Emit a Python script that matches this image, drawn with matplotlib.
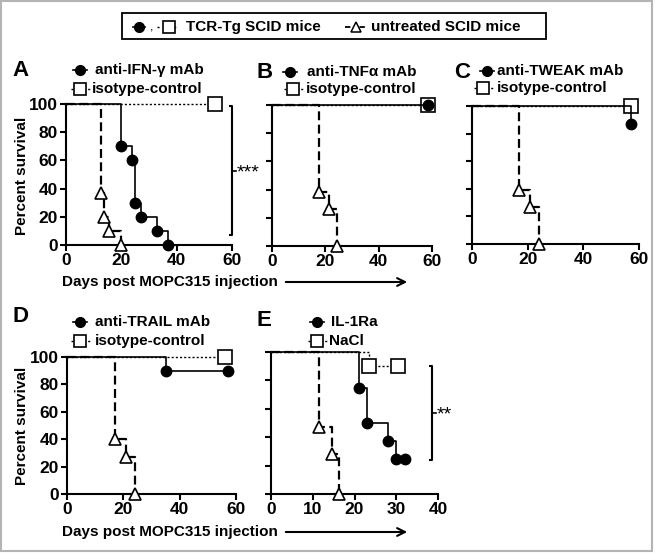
import matplotlib
matplotlib.use('Agg')
import matplotlib.pyplot as plt
from matplotlib.patches import Rectangle

plt.rcParams['font.family'] = ['Liberation Sans', 'DejaVu Sans']
plt.rcParams['font.weight'] = 'bold'

# ---------------- data ----------------
a_mab_days = [0, 20, 24, 25, 27, 33, 37]
a_mab_surv = [100, 70, 60, 30, 20, 10, 0]
a_iso_days = [0, 54]
a_iso_surv = [100, 100]
a_unt_days = [0, 12.7, 13.7, 15.7, 20]
a_unt_surv = [100, 37, 20, 10, 0]

b_mab_days = [0, 58.5]
b_mab_surv = [100, 100]
b_iso_days = [0, 58.5]
b_iso_surv = [100, 100]
b_unt_days = [0, 17.5, 21.5, 24.5]
b_unt_surv = [100, 38, 26, 0]

c_mab_days = [0, 57]
c_mab_surv = [100, 87]
c_iso_days = [0, 57]
c_iso_surv = [100, 100]
c_unt_days = [0, 17, 21, 24]
c_unt_surv = [100, 39, 27, 0]

d_mab_days = [0, 35, 57]
d_mab_surv = [100, 90, 90]
d_iso_days = [0, 56]
d_iso_surv = [100, 100]
d_unt_days = [0, 17, 21, 24]
d_unt_surv = [100, 40, 27, 0]

e_mab_days = [0, 21, 23, 28, 30, 32]
e_mab_surv = [100, 75, 50, 37, 25, 25]
e_iso_days = [0, 23.5, 30.5]
e_iso_surv = [100, 90, 90]
e_unt_days = [0, 11.5, 14.5, 16.3]
e_unt_surv = [100, 47, 28, 0]

panel_letters = ['A', 'B', 'C', 'D', 'E']
mab_labels = ['anti-IFN-\u03b3 mAb', 'anti-TNF\u03b1 mAb', 'anti-TWEAK mAb',
              'anti-TRAIL mAb', 'IL-1Ra']
ctrl_labels = ['isotype-control', 'isotype-control', 'isotype-control',
               'isotype-control', 'NaCl']
xticks_60 = [0, 20, 40, 60]
xticks_40 = [0, 10, 20, 30, 40]
yticks = [0, 20, 40, 60, 80, 100]
xlabel = 'Days post MOPC315 injection'
ylabel = 'Percent survival'
top_legend_labels = ['TCR-Tg SCID mice', 'untreated SCID mice']

W, H = 655, 555
fig = plt.figure(figsize=(W / 100, H / 100), dpi=100)
fig.patch.set_facecolor('white')

FS = 11


def px_axes(left, right, top, bottom):
    return fig.add_axes([left / W, 1 - bottom / H, (right - left) / W, (bottom - top) / H])


def draw_panel(ax, mab, iso, unt, xmax, xticks, show_y):
    ax.plot(unt[0], unt[1], drawstyle='steps-post', color='black', lw=1.6,
            ls=(0, (4, 2)), marker='^', mfc='white', mec='black', ms=8.5, mew=1.2,
            markevery=list(range(1, len(unt[0]))), clip_on=False, zorder=3)
    ax.plot(iso[0], iso[1], drawstyle='steps-post', color='black', lw=1.0,
            ls=(0, (1.5, 1.5)), marker='s', mfc='white', mec='black', ms=10, mew=1.2,
            markevery=list(range(1, len(iso[0]))), clip_on=False, zorder=4)
    ax.plot(mab[0], mab[1], drawstyle='steps-post', color='black', lw=1.2,
            ls='-', marker='o', mfc='black', mec='black', ms=7.5,
            markevery=list(range(1, len(mab[0]))), clip_on=False, zorder=5)
    ax.set_xlim(0, xmax)
    ax.set_ylim(0, 100)
    ax.set_xticks(xticks)
    ax.set_yticks(yticks)
    for s in ['top', 'right']:
        ax.spines[s].set_visible(False)
    for s in ['left', 'bottom']:
        ax.spines[s].set_linewidth(1.5)
    ax.tick_params(width=1.5, length=4, labelsize=12.5, pad=2)
    for lab in ax.get_xticklabels() + ax.get_yticklabels():
        lab.set_fontweight('bold')
    if not show_y:
        ax.set_yticklabels([])
    ax.patch.set_alpha(0)


axA = px_axes(66, 232, 104, 245)
axB = px_axes(272, 432, 105, 246)
axC = px_axes(472, 639, 106, 244)
axD = px_axes(67, 236, 357, 494)
axE = px_axes(271, 438, 352, 494)

draw_panel(axA, (a_mab_days, a_mab_surv), (a_iso_days, a_iso_surv), (a_unt_days, a_unt_surv), 60, xticks_60, True)
draw_panel(axB, (b_mab_days, b_mab_surv), (b_iso_days, b_iso_surv), (b_unt_days, b_unt_surv), 60, xticks_60, False)
draw_panel(axC, (c_mab_days, c_mab_surv), (c_iso_days, c_iso_surv), (c_unt_days, c_unt_surv), 60, xticks_60, False)
draw_panel(axD, (d_mab_days, d_mab_surv), (d_iso_days, d_iso_surv), (d_unt_days, d_unt_surv), 60, xticks_60, True)
draw_panel(axE, (e_mab_days, e_mab_surv), (e_iso_days, e_iso_surv), (e_unt_days, e_unt_surv), 40, xticks_40, False)

# ---------------- overlay in pixel coordinates ----------------
ov = fig.add_axes([0, 0, 1, 1], zorder=10)
ov.set_xlim(0, W)
ov.set_ylim(H, 0)
ov.axis('off')
ov.patch.set_alpha(0)

# figure border
ov.add_patch(Rectangle((1, 1), 651, 550, fill=False, ec='#b4b4b4', lw=1.5))

# top legend box
ov.add_patch(Rectangle((122, 13), 424, 26, fill=False, ec='black', lw=1.3))
ov.plot([133, 145], [27, 27], color='black', lw=1.2)
ov.plot([139], [27], marker='o', color='black', ms=7)
ov.text(152, 27, ',', fontsize=9, va='center', ha='center', fontweight='normal')
ov.plot([157, 178], [27, 27], color='black', lw=1.0, ls=(0, (1.5, 2.5)))
ov.plot([169], [27], marker='s', mfc='white', mec='black', ms=9, mew=1.2)
ov.text(186, 27, top_legend_labels[0], fontsize=FS, va='center', ha='left')
ov.plot([345, 367], [27, 27], color='black', lw=1.3, ls=(0, (3, 5)))
ov.plot([356], [27], marker='^', mfc='white', mec='black', ms=7, mew=1.1)
ov.text(371, 27, top_legend_labels[1], fontsize=FS, va='center', ha='left')

# panel legends: (letter pos, circle pos, circle text x, square pos, square text x)
panel_pos = [
    ((12, 71), (80, 70), 95, (80, 89), 92),
    ((256, 73), (290, 72), 307, (293, 89), 306),
    ((454, 73), (487, 71), 497, (483, 88), 497),
    ((12, 316), (80, 322), 95, (80, 341), 95),
    ((256, 320), (317, 322), 331, (317, 341), 329),
]
for i, (lp, cp, ctx, sp, stx) in enumerate(panel_pos):
    ov.text(lp[0], lp[1], panel_letters[i], fontsize=16, va='center', ha='left')
    ov.plot([cp[0] - 7, cp[0] + 7], [cp[1], cp[1]], color='black', lw=1.2)
    ov.plot([cp[0]], [cp[1]], marker='o', color='black', ms=7)
    ov.text(ctx, cp[1], mab_labels[i], fontsize=FS, va='center', ha='left')
    ov.plot([sp[0] - 9, sp[0] + 10], [sp[1], sp[1]], color='black', lw=1.0, ls=(0, (1.5, 1.5)))
    ov.plot([sp[0]], [sp[1]], marker='s', mfc='white', mec='black', ms=9, mew=1.2)
    ov.text(stx, sp[1], ctrl_labels[i], fontsize=FS, va='center', ha='left')

# y labels
ov.text(22, 176, ylabel, fontsize=FS, rotation=90, va='center', ha='center')
ov.text(22, 426, ylabel, fontsize=FS, rotation=90, va='center', ha='center')

# x labels with arrows
for y in (282, 532):
    ov.text(62, y, xlabel, fontsize=FS, va='center', ha='left')
    ov.annotate('', xy=(410, y), xytext=(283, y),
                arrowprops=dict(arrowstyle='->', color='black', lw=1.5,
                                mutation_scale=14))


# significance brackets
def bracket(x, y0, y1, text):
    ov.plot([x - 3, x, x, x - 3], [y0, y0, y1, y1], color='black', lw=1.5,
            solid_capstyle='butt')
    ym = (y0 + y1) / 2
    ov.plot([x, x + 4], [ym, ym], color='black', lw=1.2)
    ov.text(x + 5, ym + 2, text, fontsize=14, va='center', ha='left',
            fontweight='normal')


bracket(232, 106, 235, '***')
bracket(432, 366, 460, '**')

fig.savefig('out.png', dpi=100)
